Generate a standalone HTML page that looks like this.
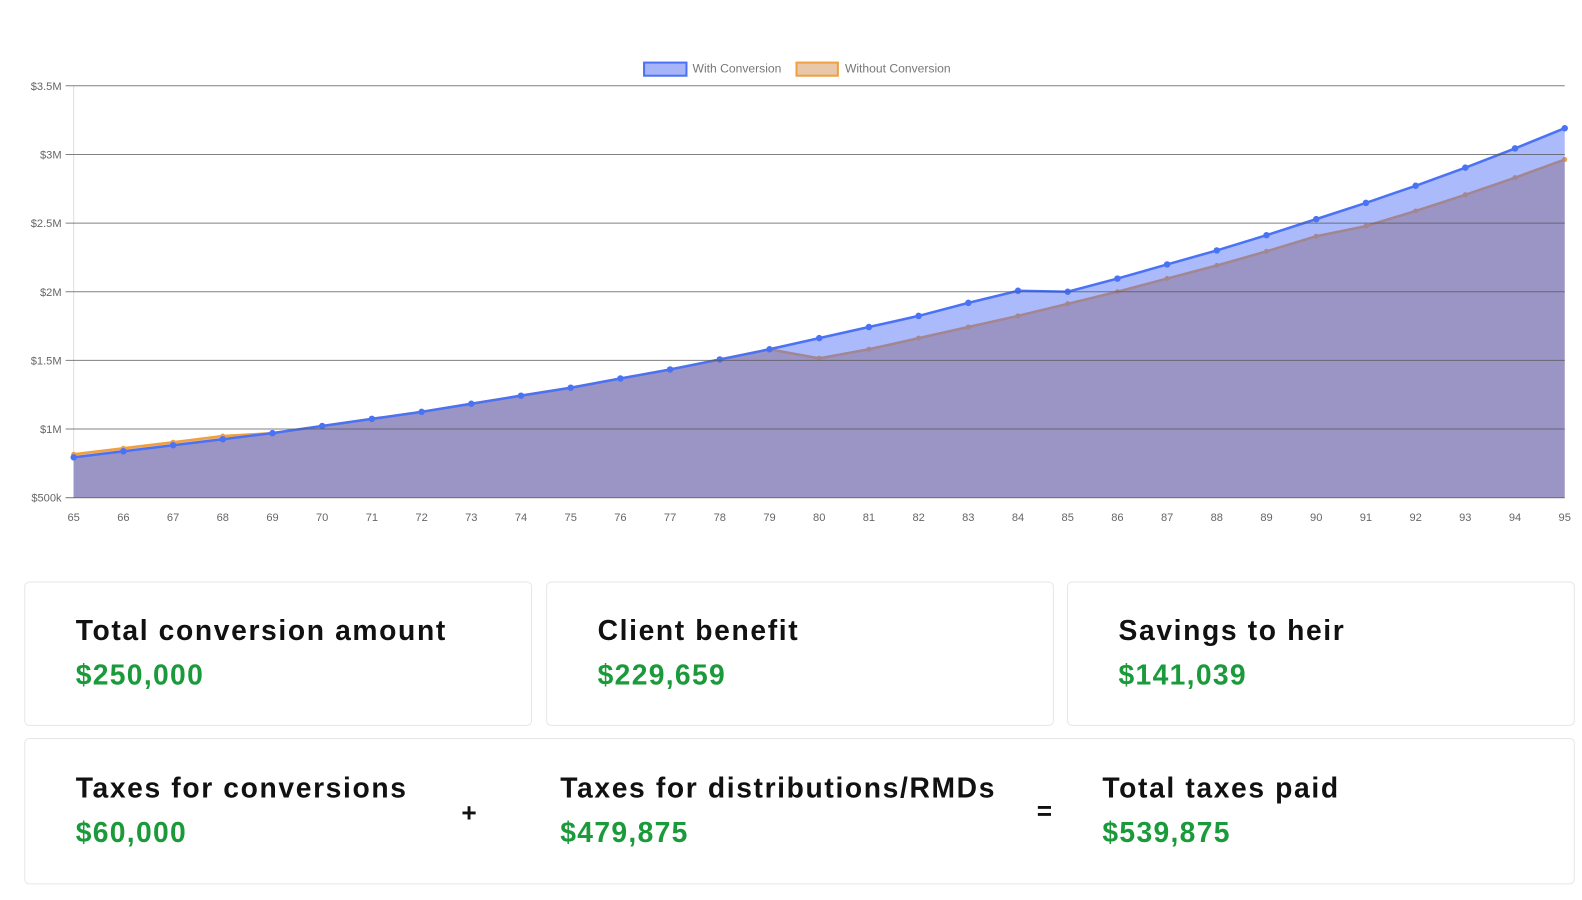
<!DOCTYPE html>
<html><head><meta charset="utf-8">
<style>
body{margin:0;width:1582px;height:892px;background:#fff;font-family:"Liberation Sans",sans-serif;overflow:hidden;position:relative}
#wrap{position:absolute;left:0;top:0;width:1582px;height:892px;transform:scale(1.0095);transform-origin:0 0}
.card{position:absolute;border:1px solid #e6e6e6;border-radius:5px;background:#fff;box-sizing:border-box}
.t{position:absolute;font-weight:bold;font-size:28px;color:#111;white-space:nowrap;letter-spacing:1.6px}
.v{position:absolute;font-weight:bold;font-size:28px;color:#1a9a3a;white-space:nowrap;letter-spacing:1.3px}
.op{position:absolute;font-weight:bold;font-size:26px;color:#111}
</style></head><body>
<div id="wrap">
<svg id="chart" width="1582" height="540" style="position:absolute;left:0;top:0"></svg>

<div class="card" style="left:24px;top:576px;width:503px;height:143px">
<div class="t" style="left:50px;top:32px">Total conversion amount</div>
<div class="v" style="left:50px;top:76px">$250,000</div></div>
<div class="card" style="left:541px;top:576px;width:503px;height:143px">
<div class="t" style="left:50px;top:32px">Client benefit</div>
<div class="v" style="left:50px;top:76px">$229,659</div></div>
<div class="card" style="left:1057px;top:576px;width:503px;height:143px">
<div class="t" style="left:50px;top:32px">Savings to heir</div>
<div class="v" style="left:50px;top:76px">$141,039</div></div>
<div class="card" style="left:24px;top:731px;width:1536px;height:145px">
<div class="t" style="left:50px;top:33px">Taxes for conversions</div>
<div class="v" style="left:50px;top:77px">$60,000</div>
<div class="op" style="left:432px;top:58px">+</div>
<div class="t" style="left:530px;top:33px">Taxes for distributions/RMDs</div>
<div class="v" style="left:530px;top:77px">$479,875</div>
<div class="op" style="left:1002px;top:56px">=</div>
<div class="t" style="left:1067px;top:33px">Total taxes paid</div>
<div class="v" style="left:1067px;top:77px">$539,875</div>
</div>
</div>

<script>
const ages = [65,66,67,68,69,70,71,72,73,74,75,76,77,78,79,80,81,82,83,84,85,86,87,88,89,90,91,92,93,94,95];
const withConv = [0.794,0.838,0.882,0.926,0.97,1.022,1.074,1.125,1.184,1.243,1.301,1.368,1.434,1.507,1.581,1.662,1.743,1.824,1.919,2.007,2.0,2.096,2.199,2.301,2.412,2.529,2.647,2.772,2.904,3.044,3.191];
const withoutConv = [0.816,0.86,0.904,0.949,0.97,1.022,1.074,1.125,1.184,1.243,1.301,1.368,1.434,1.507,1.581,1.515,1.581,1.662,1.743,1.824,1.912,2.0,2.096,2.191,2.294,2.404,2.478,2.588,2.706,2.831,2.963];
const yTicks = [0.5,1,1.5,2,2.5,3,3.5];
const yTickLabels = ["$500k","$1M","$1.5M","$2M","$2.5M","$3M","$3.5M"];

const NS="http://www.w3.org/2000/svg";
const svg=document.getElementById('chart');
const X0=73,X1=1550,Y0=493,Y1=85;
const xs=a=>X0+(a-ages[0])/(ages[ages.length-1]-ages[0])*(X1-X0);
const ys=v=>Y0-(v-0.5)/(3.5-0.5)*(Y0-Y1);
function mk(tag,attrs){const e=document.createElementNS(NS,tag);for(const k in attrs)e.setAttribute(k,attrs[k]);svg.appendChild(e);return e;}

let e=mk('line',{x1:X0,y1:Y1,x2:X0,y2:Y0,stroke:'#ddd'});



function area(vals,fill,name){
  let d='M'+xs(ages[0])+','+Y0;
  vals.forEach((v,i)=>{d+=' L'+xs(ages[i])+','+ys(v);});
  d+=' L'+xs(ages[ages.length-1])+','+Y0+' Z';
  const p=mk('path',{d:d,fill:fill});
  
  
}
function line(vals,color,name,r){
  const pts=vals.map((v,i)=>xs(ages[i])+','+ys(v)).join(' ');
  const p=mk('polyline',{points:pts,fill:'none',stroke:color,'stroke-width':2.5});
  
  
  vals.forEach((v,i)=>{
    const c=mk('circle',{cx:xs(ages[i]),cy:ys(v),r:r,fill:color});
    
    
  });
}
area(withoutConv,'rgb(228,188,160)','without-conversion-area');
line(withoutConv,'#f0a040','without-conversion-line',2.5);
area(withConv,'rgba(66,103,245,0.45)','with-conversion-area');
line(withConv,'#4a72f5','with-conversion-line',3.2);

yTicks.forEach((t,i)=>{
  const g=mk('line',{x1:X0-8,y1:ys(t),x2:X1,y2:ys(t),stroke:'#555','stroke-opacity':0.75,'stroke-width':1});
  
  
  const tx=mk('text',{x:X0-12,y:ys(t)+4,'text-anchor':'end','font-size':11,fill:'#666','font-family':'Liberation Sans, sans-serif'});
  tx.textContent=yTickLabels[i];
  
  
});
ages.forEach(a=>{
  const tx=mk('text',{x:xs(a),y:516,'text-anchor':'middle','font-size':11,fill:'#666','font-family':'Liberation Sans, sans-serif'});
  tx.textContent=a;
  
  
});
let r=mk('rect',{x:638,y:62,width:42,height:13,fill:'#a8b4f8',stroke:'#4a72f5','stroke-width':2});


let t=mk('text',{x:686,y:72,'font-size':12,fill:'#777','font-family':'Liberation Sans, sans-serif'});t.textContent='With Conversion';


r=mk('rect',{x:789,y:62,width:41,height:13,fill:'#e8c8a8',stroke:'#f0a040','stroke-width':2});


t=mk('text',{x:837,y:72,'font-size':12,fill:'#777','font-family':'Liberation Sans, sans-serif'});t.textContent='Without Conversion';


</script>
</body></html>
